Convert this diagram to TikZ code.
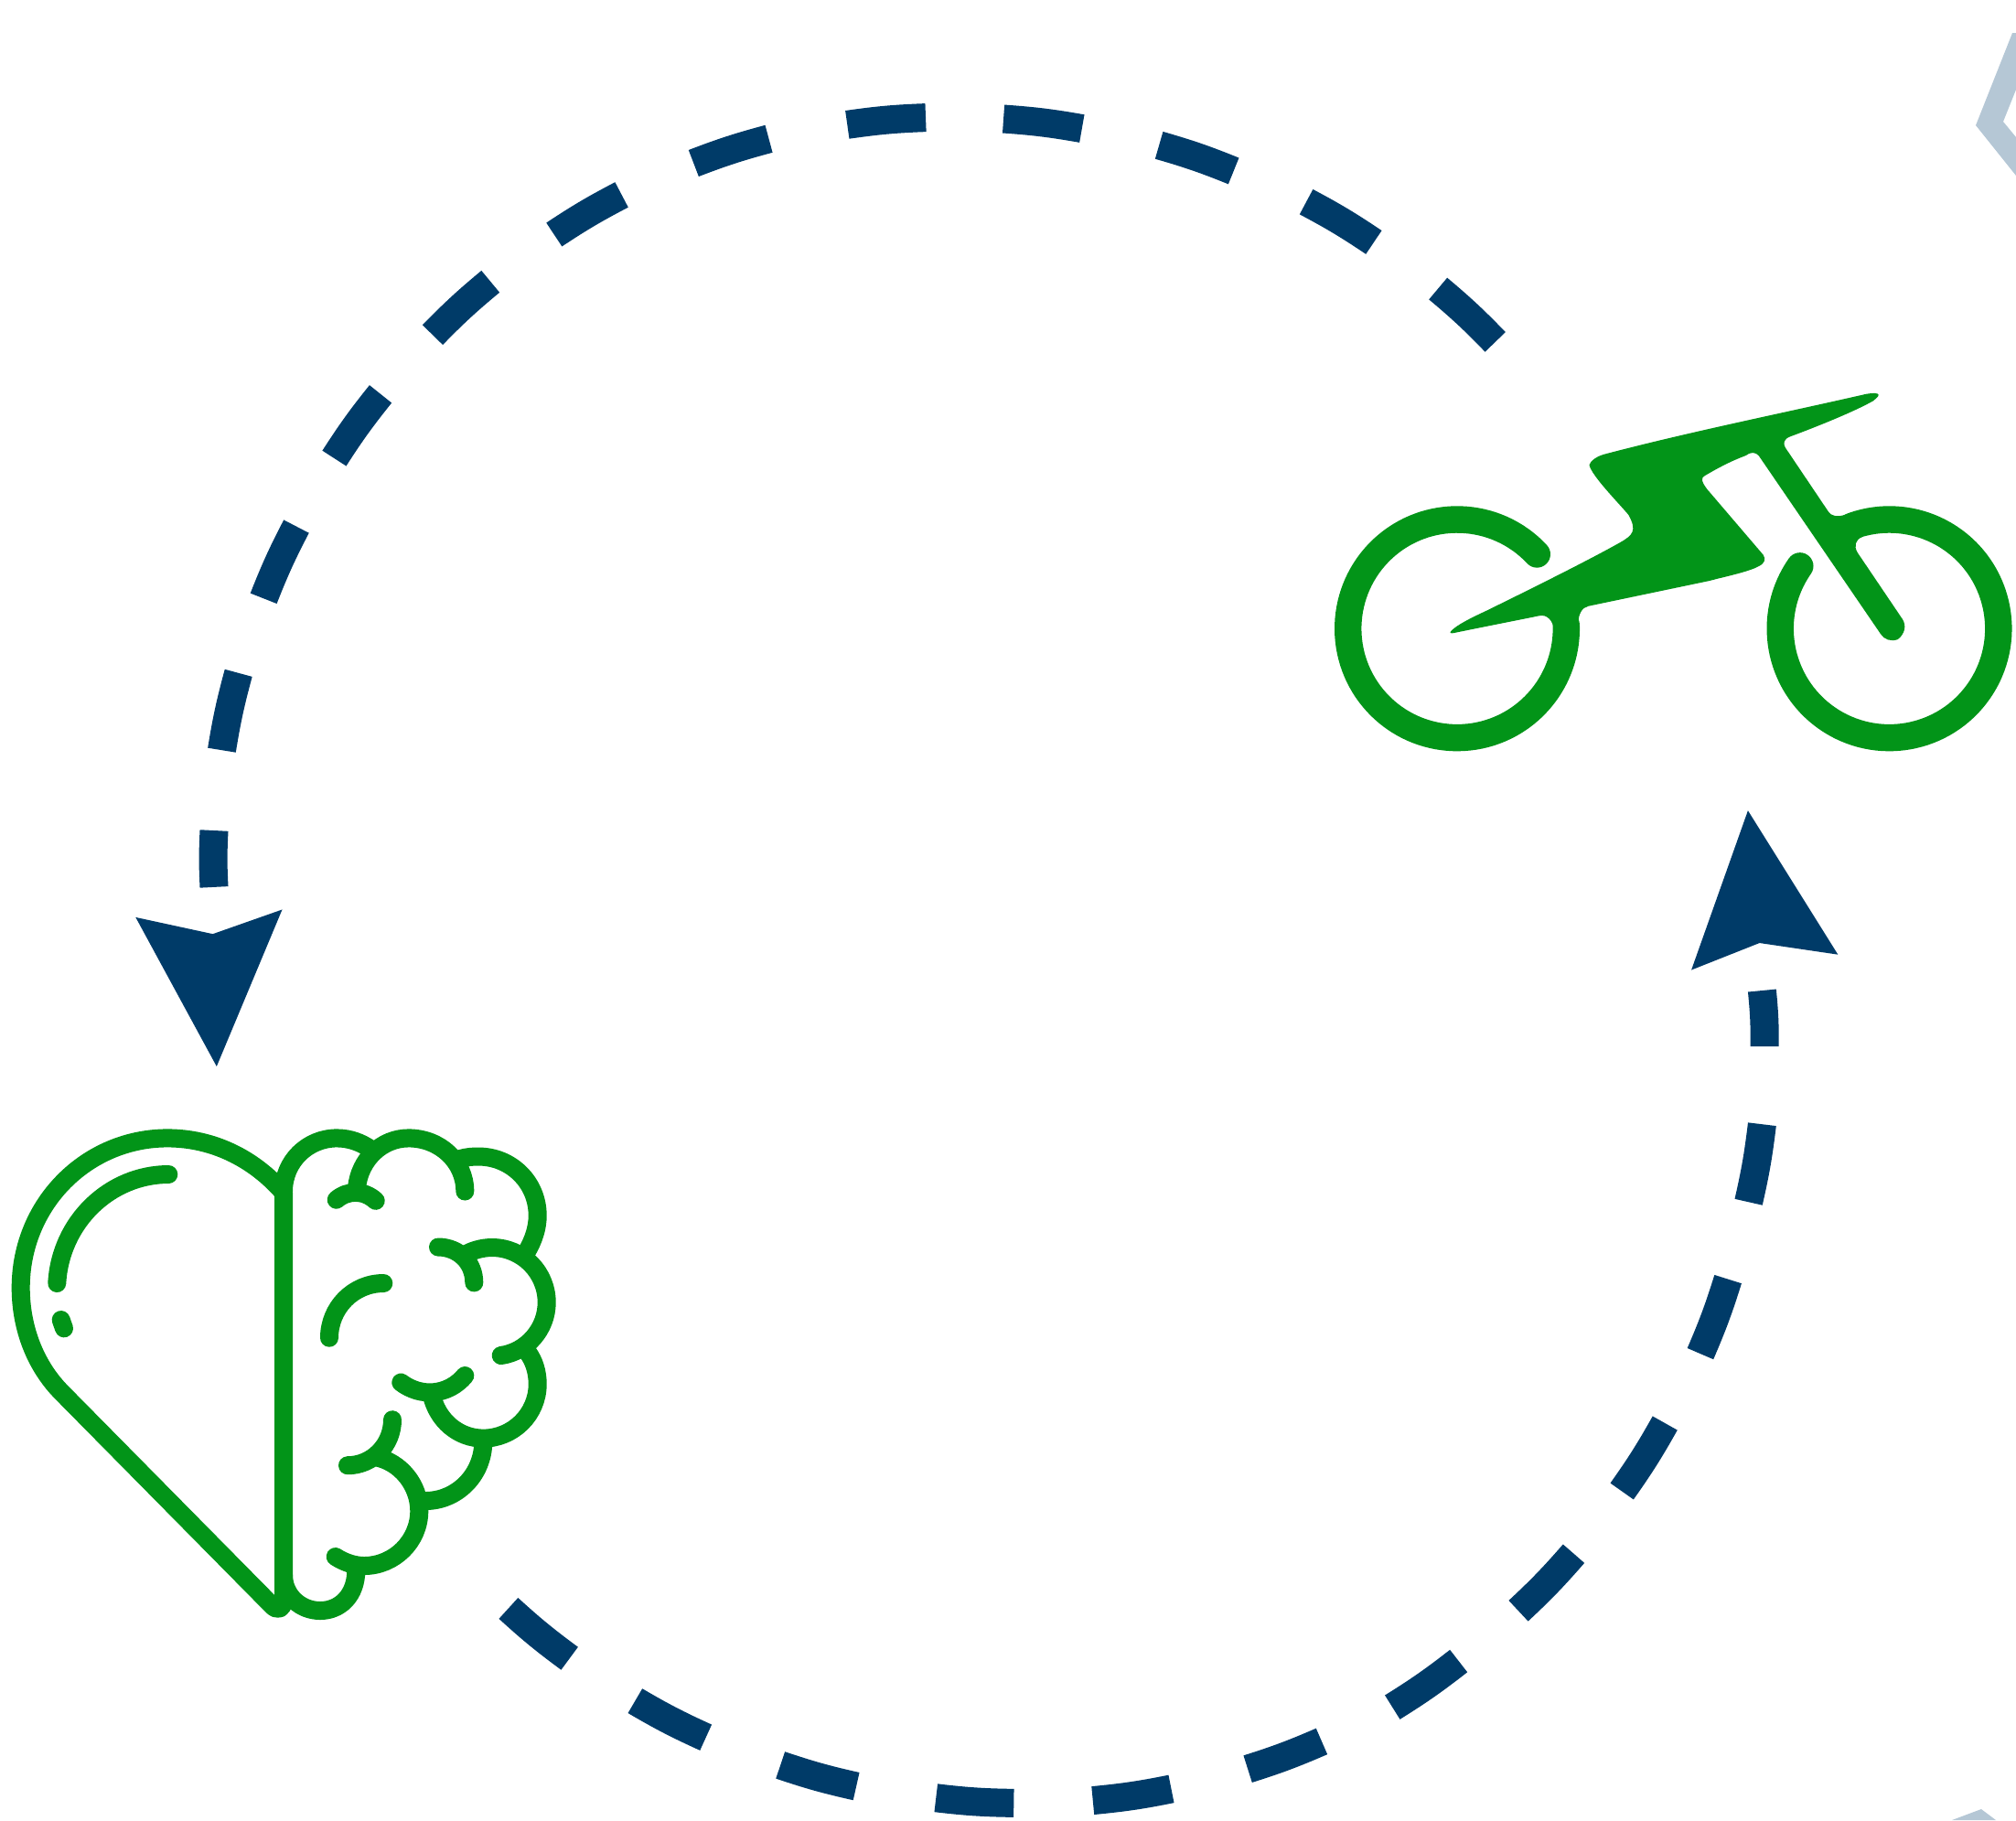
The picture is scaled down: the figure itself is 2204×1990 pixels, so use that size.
\documentclass[tikz,border=0pt]{standalone}
\definecolor{leafgreen}{HTML}{029418}
\definecolor{deepnavy}{HTML}{003B68}
\definecolor{palenavy}{HTML}{B5C7D5}
\tikzset{
  iconline/.style={draw=leafgreen,line width=0.2cm,line cap=round,line join=round},
  wheelline/.style={draw=leafgreen,line width=0.294cm},
  dashpart/.style={draw=deepnavy,line width=0.31cm},
}
\begin{document}
\begin{tikzpicture}[x=0.01cm,y=-0.01cm]
  \useasboundingbox (0,0) rectangle (2204,1990);
  % 虚线圆弧（上）
  \begin{scope}[shift={(0.7,0.7)},scale=1.4056]
    \foreach \xa/\ya/\xb/\yb in {1162.5/265.5/1118/224,1068/188/1015.5/156.5,959/132.5/901/112.5,841/99.5/780/92,719.5/91/658.5/96.5,597.5/107.5/539/126.5,483/151/430.5/182,381/218.5/336/260,295.5/306/259.5/356,230/409/204.5/465,185/523/172/583,166/645.5/166/689.5} {
      \draw[dashpart] (\xa,\ya) to[bend right=3] (\xb,\yb);
    }
    % 虚线圆弧（下）
    \foreach \xa/\ya/\xb/\yb in {1370/770/1372/813.5,1370/874/1359.5/934.5,1343.5/994.5/1322/1052.5,1294.5/1106.5/1261/1159.5,1223.5/1208/1180.5/1252.5,1134/1291.5/1082.5/1327.5,1027.5/1354/970/1375.5,910.5/1391/849.5/1400,788/1402/727.5/1398,665.5/1389/606.5/1372.5,548.5/1351/493.5/1322.5,442.5/1289.5/395/1250.5} {
      \draw[dashpart] (\xa,\ya) to[bend left=3] (\xb,\yb);
    }
    % 箭头
    \fill[deepnavy] (105,713) -- (165,726) -- (219,707) -- (168,829) -- cycle;
    \fill[deepnavy] (1359,630) -- (1429,742) -- (1368,733) -- (1315,754) -- cycle;
  \end{scope}
  % 右侧浅色残形
  \fill[palenavy] (2200,36) -- (2204,36) -- (2204,98) -- (2190,133) -- (2204,150) -- (2204,192) -- (2160,137) -- cycle;
  \fill[palenavy] (2166,1978) -- (2182,1990) -- (2134,1990) -- cycle;
  % 自行车
  \draw[wheelline,line cap=round] (1593,687.3) ++(-43:119.3) arc[start angle=-43,end angle=-362,radius=119.3];
  \draw[wheelline,line cap=round] (2065.5,687.3) ++(215:119.3) arc[start angle=215,end angle=-110,radius=119.3];
  \fill[leafgreen,xshift=-0.025cm] (2043,430.7) .. controls (2050,429.5) and (2056,429.5) .. (2056.2,431.7)
    .. controls (2056,434) and (2053,436) .. (2050.3,438.3)
    .. controls (2030,450) and (1985,468) .. (1959.6,477.3)
    .. controls (1953,480) and (1951,484) .. (1954.7,490) -- (2001.3,559.3)
    .. controls (2004,564) and (2011,566) .. (2020.9,562.3) -- (2040,560) -- (2038,587.3)
    .. controls (2031,590) and (2029,597) .. (2033.1,604) -- (2082.2,676.7)
    .. controls (2087,684) and (2085,693) .. (2077.3,699)
    .. controls (2070,702) and (2062,699) .. (2058.6,693.3) -- (1925.3,498.3)
    .. controls (1922,494) and (1916,494) .. (1910.6,498.3)
    .. controls (1895,504) and (1880,512) .. (1866.5,520)
    .. controls (1862,522) and (1862,526) .. (1868.9,535) -- (1930.2,606.7)
    .. controls (1933,611) and (1932,616) .. (1925.3,619)
    .. controls (1915,625) and (1890,630) .. (1871.4,635) -- (1739,662.7)
    .. controls (1732,664) and (1728,672) .. (1728.2,680) -- (1702,690)
    .. controls (1700,678) and (1694,671.5) .. (1685.1,673.3) -- (1596.9,691)
    .. controls (1591,692.5) and (1587,693) .. (1588,691)
    .. controls (1592,686) and (1601,680) .. (1626.3,668.3)
    .. controls (1680,642) and (1740,612) .. (1773.3,593.3)
    .. controls (1788,585) and (1792,580) .. (1783.1,563.3)
    .. controls (1775,553) and (1742,520) .. (1740,508.3)
    .. controls (1741,504) and (1748,499) .. (1756.2,496.7)
    .. controls (1850,472) and (1950,452) .. (2043,430.7) -- cycle;
  % 心
  \draw[iconline] (310,1304) .. controls (277,1266) and (232,1244.4) .. (183,1244.4)
    .. controls (95,1244.4) and (22.7,1316) .. (22.7,1408)
    .. controls (22.7,1454) and (40,1495) .. (68,1523) -- (298,1756)
    .. controls (304,1762) and (310,1758) .. (310,1750) -- cycle;
  \draw[iconline] (184.3,1284) .. controls (120,1284) and (66,1336) .. (62.3,1403);
  \draw[iconline] (66.7,1443) -- (70,1452.3);
  % 脑
  \draw[iconline] (310,1302.5) .. controls (310,1270) and (336,1244.4) .. (368.3,1244.4)
    .. controls (382,1244.4) and (395,1249) .. (406,1257);
  \draw[iconline] (390,1298.8) .. controls (393,1268) and (417,1244.4) .. (446.7,1244.4)
    .. controls (481,1244.4) and (508.3,1270) .. (508.3,1302.5);
  \draw[iconline] (367.7,1311.7) .. controls (380,1301) and (398,1301) .. (410.7,1312.8);
  \draw[iconline] (503.3,1267) .. controls (510,1265) and (516,1264.5) .. (523,1264.5)
    .. controls (559,1264.5) and (587.7,1293) .. (587.7,1329)
    .. controls (587.7,1343) and (583,1356) .. (576.7,1367);
  \draw[iconline] (479,1363.5) .. controls (501,1363.5) and (518.3,1380) .. (518.3,1402.4);
  \draw[iconline] (506.7,1372.8) .. controls (516,1367) and (527,1364) .. (538,1364)
    .. controls (571,1364) and (597.7,1391) .. (597.7,1424)
    .. controls (597.7,1453) and (576,1478) .. (547.7,1482);
  \draw[iconline] (576.7,1478.2) .. controls (584,1488) and (587.7,1500) .. (587.7,1513.4)
    .. controls (587.7,1546) and (561,1572.6) .. (528.3,1572.6)
    .. controls (501,1572.6) and (478,1553) .. (471.7,1524.5);
  \draw[iconline] (438.3,1511.5) .. controls (460,1528) and (490,1526) .. (508.3,1504);
  \draw[iconline] (528.3,1576) .. controls (528.3,1612) and (500,1641) .. (465,1641);
  \draw[iconline] (429,1552.2) .. controls (429,1580) and (407,1602.2) .. (380,1602.2);
  \draw[iconline] (410,1593) .. controls (438,1598) and (458.3,1624) .. (458.3,1652)
    .. controls (458.3,1685) and (431,1712) .. (398,1712)
    .. controls (387,1712) and (376,1708) .. (366.7,1702);
  \draw[iconline] (310,1722) .. controls (310,1744) and (328,1761) .. (350,1761)
    .. controls (372,1761) and (389.3,1744) .. (389.3,1717);
  \draw[iconline] (419.3,1403) .. controls (386,1403) and (360,1430) .. (360,1462.7);
\end{tikzpicture}
\end{document}
